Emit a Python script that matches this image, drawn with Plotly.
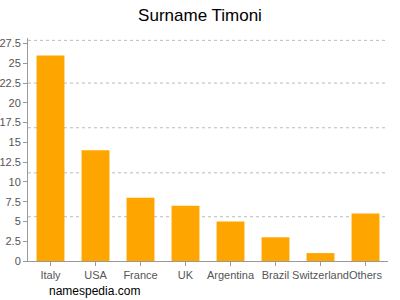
import plotly.graph_objects as go

countries = ["Italy", "USA", "France", "UK", "Argentina", "Brazil", "Switzerland", "Others"]
counts = [26, 14, 8, 7, 5, 3, 1, 6]
tick_vals = [0, 2.5, 5, 7.5, 10, 12.5, 15, 17.5, 20, 22.5, 25, 27.5]
tick_text = ["0", "2.5", "5", "7.5", "10", "12.5", "15", "17.5", "20", "22.5", "25", "27.5"]
grid_vals = [27.9, 22.5, 16.85, 11.15, 5.6]

fig = go.Figure(go.Bar(x=countries, y=counts, marker_color="#FFA500", marker_line_width=0))

for g in grid_vals:
    fig.add_shape(type="line", xref="paper", yref="y", x0=0, x1=1, y0=g, y1=g,
                  line=dict(color="#bbbbbb", width=1, dash="3px,3px"), layer="below")

fig.update_layout(
    width=400, height=300,
    margin=dict(l=28, r=12, t=38, b=39),
    paper_bgcolor="white", plot_bgcolor="white",
    bargap=0.38,
    title=dict(text="Surname Timoni", x=0.5, xanchor="center", y=0.95, yanchor="middle",
               font=dict(family="Liberation Sans, Arial", size=17, color="#000")),
    font=dict(family="Liberation Sans, Arial", size=11, color="#555"),
    showlegend=False,
)
fig.update_xaxes(showline=True, linecolor="#999", linewidth=1, ticks="outside", ticklen=4,
                 tickcolor="#999", showgrid=False, tickangle=0, automargin=False,
                 tickfont=dict(size=11, color="#555"))
fig.update_yaxes(range=[0, 28.2], tickvals=tick_vals, ticktext=tick_text, showline=True,
                 linecolor="#999", linewidth=1, ticks="outside", ticklen=4, tickcolor="#999",
                 showgrid=False, zeroline=False, automargin=False,
                 tickfont=dict(size=11, color="#555"))
fig.add_annotation(text="namespedia.com", xref="paper", yref="paper", x=0.053, y=-0.095,
                   xanchor="left", yanchor="top", showarrow=False,
                   font=dict(family="Liberation Sans, Arial", size=12, color="#000"))
fig.write_html("out.html")
